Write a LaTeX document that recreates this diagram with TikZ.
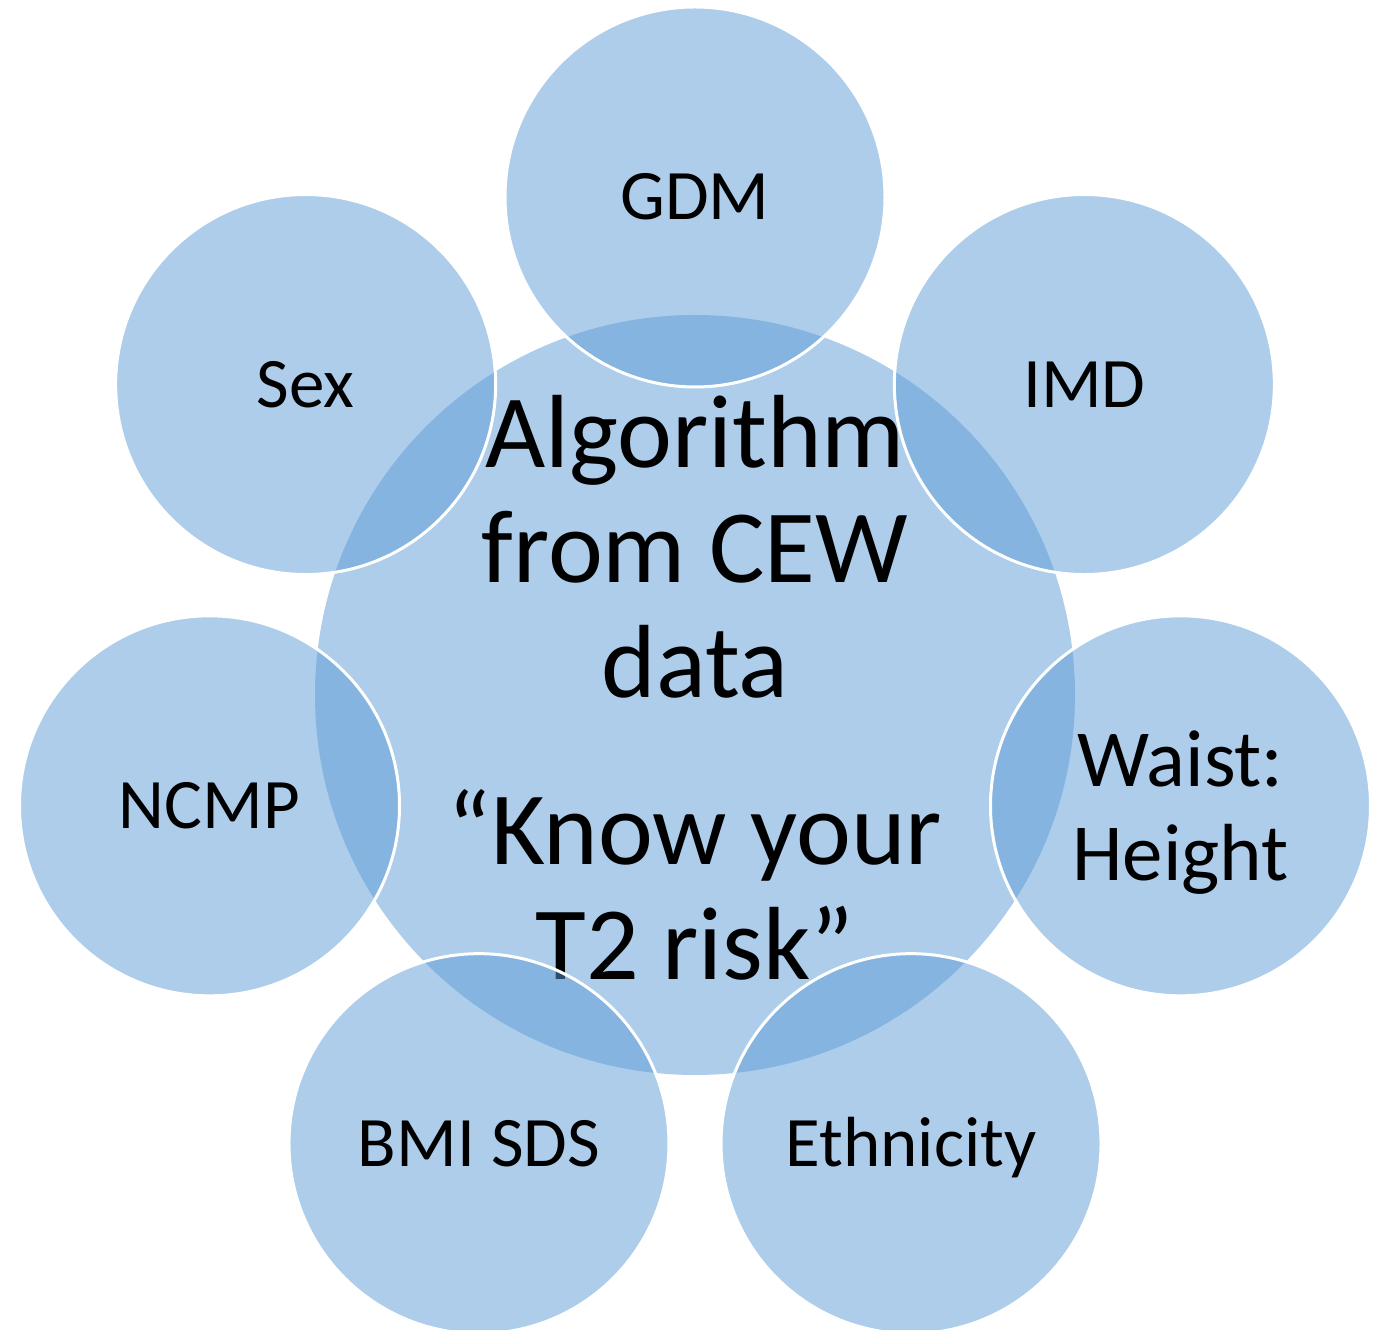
\documentclass[tikz,border=0pt]{standalone}
\usepackage{fontspec}
\setmainfont{Carlito}
\usepackage{tikz}
\usetikzlibrary{positioning,calc}
\definecolor{ringblue}{HTML}{5B9BD5}

\begin{document}
\begin{tikzpicture}[
    x=1pt, y=1pt,
    every node/.style={font=\fontsize{71}{85}\selectfont},
    hub/.style={circle, fill=ringblue, fill opacity=0.5, minimum size=760pt, inner sep=0pt},
    hubtext/.style={align=center, font=\fontsize{104}{115}\selectfont},
    factor/.style={circle, draw=white, line width=3pt, fill=ringblue, fill opacity=0.5, draw opacity=1, text opacity=1, minimum size=380pt, inner sep=0pt, align=center, text height=46pt, text depth=0pt}
]
\useasboundingbox (0,0) rectangle (1381,1330);

% Central circle
\node[hub] (algo) at (695,635) {};
\node[hubtext, yshift=7pt] (algotext) at (algo) {Algorithm\\from CEW\\data\\[52pt]“Know your\\T2 risk”};

% Risk factors around the centre
\node[factor] (gdm) at ($(algo)+(90:498pt)$) {GDM};
\node[factor] (imd) at ($(algo)+(38.57:498pt)$) {IMD};
\node[factor, font=\fontsize{81}{94}\selectfont, text height=150pt] (waist) at ($(algo)+(-12.86:498pt)$) {Waist:\\Height};
\node[factor] (eth) at ($(algo)+(-64.29:498pt)$) {Ethnicity};
\node[factor] (bmi) at ($(algo)+(-115.71:498pt)$) {BMI SDS};
\node[factor] (ncmp) at ($(algo)+(-167.14:498pt)$) {NCMP};
\node[factor] (sex) at ($(algo)+(141.43:498pt)$) {Sex};

\end{tikzpicture}
\end{document}
